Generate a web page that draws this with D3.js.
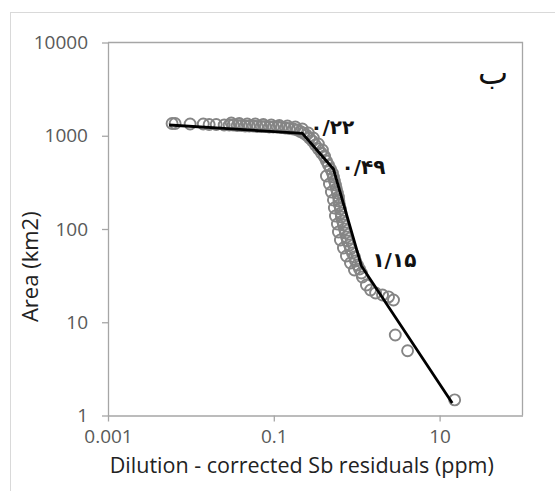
<!DOCTYPE html>
<html>
<head>
<meta charset="utf-8">
<script src="https://cdn.jsdelivr.net/npm/d3@7/dist/d3.min.js"></script>
<style>
  body { margin: 0; background: #fff; }
  .tick text { font-family: "Open Sans", sans-serif; fill: #595959; }
</style>
</head>
<body>
<svg id="chart" width="555" height="491"></svg>
<script>
// concentration-area data
const residuals = [
  0.00593, 0.00645, 0.00979, 0.0141, 0.0166, 0.0202, 0.0252, 0.0290, 0.0307, 0.0324,
  0.0362, 0.0383, 0.0405, 0.0452, 0.0478, 0.0506, 0.0565, 0.0598, 0.0632, 0.0706,
  0.0747, 0.0789, 0.0882, 0.0933, 0.0986, 0.110, 0.1165, 0.123, 0.138, 0.146,
  0.154, 0.172, 0.182, 0.192, 0.209, 0.221, 0.227, 0.247, 0.261, 0.269,
  0.292, 0.300, 0.317, 0.345, 0.345, 0.375, 0.386, 0.408, 0.408, 0.431,
  0.431, 0.456, 0.469, 0.482, 0.495, 0.509, 0.524, 0.524, 0.538, 0.538,
  0.554, 0.554, 0.569, 0.585, 0.585, 0.602, 0.602, 0.610, 0.619, 0.636,
  0.636, 0.645, 0.654, 0.673, 0.692, 0.692, 0.711, 0.731, 0.752, 0.752,
  0.773, 0.817, 0.841, 0.841, 0.889, 0.939, 0.939, 0.966, 1.02, 1.08,
  1.14, 1.17, 1.31, 1.47, 1.69, 2.05, 2.42, 2.78, 2.92, 4.11,
  15.2
]
const areas = [
  1353, 1353, 1337, 1337, 1320, 1320, 1304, 1304, 1370, 1304,
  1288, 1353, 1288, 1272, 1337, 1272, 1272, 1337, 1257, 1257,
  1320, 1257, 1241, 1304, 1241, 1241, 1288, 1226, 1211, 1272,
  1196, 1181, 1241, 1152, 1111, 1181, 1070, 1019, 1070, 946,
  878, 946, 796, 721, 815, 653, 703, 592, 607, 536,
  370, 486, 304, 440, 249, 398, 361, 205, 327, 168,
  296, 138, 269, 243, 113, 220, 92.9, 200, 181, 164,
  76.2, 148, 134.5, 121.8, 110.4, 62.6, 100, 90.6, 82.1, 51.3,
  74.3, 67.4, 61.0, 43.2, 55.3, 50.1, 36.3, 45.4, 41.1, 37.2,
  33.7, 30.6, 25.1, 22.2, 20.6, 19.6, 18.7, 17.3, 7.30, 4.95,
  1.47
]

// fitted segments (break points)
const fitX = [0.00546, 0.221, 0.524, 1.14, 14.2]
const fitY = [1304, 1062, 440, 40.1, 1.36]
const slopeLabels = ["۰/۲۲", "۰/۴۹", "۱/۱۵"]

const xTicks = [0.001, 0.1, 10]
const yTicks = [1, 10, 100, 1000, 10000]
const panelLabel = "ب"
const xTitle = "Dilution - corrected Sb residuals (ppm)"
const yTitle = "Area (km2)"

const margin = {left: 108, right: 32.5, top: 42.5, bottom: 75.5}
const width = 555, height = 491
const svg = d3.select("#chart")

const x = d3.scaleLog()
  .domain([0.001, 100])
  .range([margin.left, width - margin.right])
const y = d3.scaleLog()
  .domain([1, 10000])
  .range([height - margin.bottom, margin.top])

// outer chart border
svg.append("rect")
  .attr("x", 10.5).attr("y", 12.5)
  .attr("width", 560).attr("height", 500)
  .attr("fill", "none")
  .attr("stroke", "#d9d9d9")

// plot area frame (top and right)
svg.append("path")
  .attr("d", `M${x(0.001)},${y(10000)}H${x(100)}V${y(1)}`)
  .attr("fill", "none")
  .attr("stroke", "#a6a6a6")
  .attr("stroke-width", 1.3)

const xAxis = svg.append("g")
  .attr("transform", `translate(0,${y(1)})`)
  .call(d3.axisBottom(x)
    .tickValues(xTicks)
    .tickFormat((d) => String(d))
    .tickSize(6)
    .tickSizeOuter(0)
    .tickPadding(8))
const yAxis = svg.append("g")
  .attr("transform", `translate(${x(0.001)},0)`)
  .call(d3.axisLeft(y)
    .tickValues(yTicks)
    .tickFormat(d3.format("d"))
    .tickSize(6)
    .tickSizeOuter(0)
    .tickPadding(14))

for (const g of [xAxis, yAxis]) {
  g.select(".domain").attr("stroke", "#a6a6a6").attr("stroke-width", 1.3)
  g.selectAll(".tick line").attr("stroke", "#a6a6a6").attr("stroke-width", 1.3)
  g.selectAll(".tick text").style("font-size", "19px")
}

// points
const points = residuals.map((r, i) => ({r, a: areas[i]}))
svg.append("g")
  .selectAll("circle")
  .data(points)
  .join("circle")
  .attr("cx", (d) => x(d.r))
  .attr("cy", (d) => y(d.a))
  .attr("r", 5.5)
  .attr("fill", "none")
  .attr("stroke", "#858585")
  .attr("stroke-width", 1.9)

// fitted line
const fit = fitX.map((v, i) => [v, fitY[i]])
svg.append("path")
  .datum(fit)
  .attr("d", d3.line().x((d) => x(d[0])).y((d) => y(d[1])))
  .attr("fill", "none")
  .attr("stroke", "#000")
  .attr("stroke-width", 2.8)
  .attr("stroke-linejoin", "miter")

// slope labels next to the break points
const labelOffsets = [[8, 1], [8, 5], [11, 1]]
svg.append("g")
  .selectAll("text")
  .data(slopeLabels)
  .join("text")
  .attr("x", (d, i) => x(fit[i + 1][0]) + labelOffsets[i][0])
  .attr("y", (d, i) => y(fit[i + 1][1]) + labelOffsets[i][1])
  .attr("direction", "ltr")
  .style("font-family", "'DejaVu Sans', sans-serif")
  .style("font-weight", "bold")
  .style("font-size", "20px")
  .attr("fill", "#111")
  .text((d) => d)

svg.append("text")
  .attr("x", 478).attr("y", 84)
  .style("font-family", "'DejaVu Sans', sans-serif")
  .style("font-size", "32px")
  .attr("fill", "#111")
  .text(panelLabel)

// axis titles
svg.append("text")
  .attr("x", (x(0.001) + 495.6) / 2)
  .attr("y", 473)
  .attr("text-anchor", "middle")
  .style("font-family", "'Open Sans', sans-serif")
  .style("font-size", "21.5px")
  .attr("fill", "#222")
  .text(xTitle)

svg.append("text")
  .attr("transform", "translate(37.5,266.7) rotate(-90)")
  .attr("text-anchor", "middle")
  .style("font-family", "'Open Sans', sans-serif")
  .style("font-size", "22px")
  .attr("fill", "#222")
  .text(yTitle)
</script>
</body>
</html>
